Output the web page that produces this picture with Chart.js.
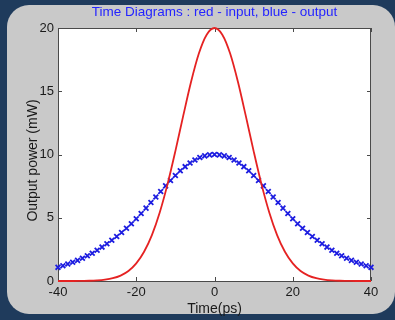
<!DOCTYPE html>
<html>
<head>
<meta charset="utf-8">
<script src="https://cdn.jsdelivr.net/npm/chart.js@4.4.1/dist/chart.umd.min.js"></script>
<style>
  html, body { margin: 0; padding: 0; background: #1f3b5c; }
  #wrap { position: relative; width: 395px; height: 320px; background: #1f3b5c; overflow: hidden; }
  #panel { position: absolute; left: 7px; top: 5px; width: 388px; height: 309px; border-radius: 22px; background: #c9c9c9; }
  #timeChart { position: absolute; left: 0; top: 0; }
</style>
</head>
<body>
<div id="wrap">
  <div id="panel"></div>
  <canvas id="timeChart" width="395" height="320"></canvas>
</div>
<script>
// input pulse (red line)
const timeIn = [-40, -38, -36, -34, -32, -30, -28, -26, -24, -22, -20, -18, -16, -14, -12, -10, -8, -6, -4, -2,
    0, 2, 4, 6, 8, 10, 12, 14, 16, 18, 20, 22, 24, 26, 28, 30, 32, 34, 36, 38, 40];
const powerIn = [0, 0, 0, 0.01, 0.02, 0.05, 0.11, 0.22, 0.43, 0.79, 1.39, 2.31, 3.63, 5.42, 7.66, 10.27, 13.05, 15.73, 17.98, 19.47,
    20, 19.47, 17.98, 15.73, 13.05, 10.27, 7.66, 5.42, 3.63, 2.31, 1.39, 0.79, 0.43, 0.22, 0.11, 0.05, 0.02, 0.01, 0, 0, 0];

// output pulse (blue markers)
const timeOut = [-40, -38.75, -37.5, -36.25, -35, -33.75, -32.5, -31.25, -30, -28.75, -27.5, -26.25, -25, -23.75, -22.5, -21.25,
    -20, -18.75, -17.5, -16.25, -15, -13.75, -12.5, -11.25, -10, -8.75, -7.5, -6.25, -5, -3.75, -2.5, -1.25,
    0, 1.25, 2.5, 3.75, 5, 6.25, 7.5, 8.75, 10, 11.25, 12.5, 13.75, 15, 16.25, 17.5, 18.75,
    20, 21.25, 22.5, 23.75, 25, 26.25, 27.5, 28.75, 30, 31.25, 32.5, 33.75, 35, 36.25, 37.5, 38.75, 40];
const powerOut = [1.08, 1.21, 1.34, 1.48, 1.63, 1.80, 1.99, 2.20, 2.43, 2.68, 2.94, 3.22, 3.52, 3.83, 4.17, 4.53,
    4.92, 5.33, 5.76, 6.20, 6.64, 7.08, 7.52, 7.94, 8.34, 8.71, 9.04, 9.33, 9.57, 9.76, 9.89, 9.97,
    10.00, 9.97, 9.89, 9.76, 9.57, 9.33, 9.04, 8.71, 8.34, 7.94, 7.52, 7.08, 6.64, 6.20, 5.76, 5.33,
    4.92, 4.53, 4.17, 3.83, 3.52, 3.22, 2.94, 2.68, 2.43, 2.20, 1.99, 1.80, 1.63, 1.48, 1.34, 1.21, 1.08];

const xTicks = [-40, -20, 0, 20, 40];
const yTicks = [0, 5, 10, 15, 20];
const yTitle = 'Output power (mW)';

const fontFamily = 'Liberation Sans, Arial, sans-serif';

// white axes box with matlab style inward ticks, plus the y label
const axesFrame = {
    id: 'axesFrame',
    beforeDatasetsDraw(chart) {
        const { ctx, chartArea: a, scales } = chart;
        ctx.save();
        ctx.fillStyle = '#ffffff';
        ctx.fillRect(a.left, a.top, a.width, a.height);
        ctx.strokeStyle = '#4a4a4a';
        ctx.lineWidth = 1;
        ctx.strokeRect(a.left + 0.5, a.top + 0.5, a.width - 1, a.height);
        const len = 4;
        ctx.beginPath();
        xTicks.forEach(function(v) {
            const px = Math.round(scales.x.getPixelForValue(v)) + 0.5;
            ctx.moveTo(px, a.bottom); ctx.lineTo(px, a.bottom - len);
            ctx.moveTo(px, a.top); ctx.lineTo(px, a.top + len);
        });
        yTicks.forEach(function(v) {
            const py = Math.round(scales.y.getPixelForValue(v)) + 0.5;
            ctx.moveTo(a.left, py); ctx.lineTo(a.left + len, py);
            ctx.moveTo(a.right, py); ctx.lineTo(a.right - len, py);
        });
        ctx.stroke();

        // y axis label, matlab puts it a bit below the box centre
        ctx.translate(33, (a.top + a.bottom) / 2 + 6);
        ctx.rotate(-Math.PI / 2);
        ctx.fillStyle = '#1a1a1a';
        ctx.font = '14px ' + fontFamily;
        ctx.textAlign = 'center';
        ctx.textBaseline = 'middle';
        ctx.fillText(yTitle, 0, 0);
        ctx.restore();
    }
};

const tickFont = { family: fontFamily, size: 13 };

new Chart(document.getElementById('timeChart'), {
    type: 'line',
    data: {
        datasets: [{
            label: 'input',
            data: timeIn.map((t, i) => ({ x: t, y: powerIn[i] })),
            borderColor: '#e52222',
            borderWidth: 1.8,
            pointRadius: 0,
            cubicInterpolationMode: 'monotone',
            fill: false,
            clip: 4
        }, {
            label: 'output',
            data: timeOut.map((t, i) => ({ x: t, y: powerOut[i] })),
            showLine: false,
            pointStyle: 'crossRot',
            pointRadius: 3.4,
            pointBorderWidth: 1.8,
            pointBorderColor: '#1c1ce0',
            pointBackgroundColor: '#1c1ce0',
            clip: 6
        }]
    },
    options: {
        responsive: false,
        animation: false,
        layout: { padding: { left: 8, right: 24, top: 0, bottom: 0 } },
        scales: {
            x: {
                type: 'linear',
                min: -40,
                max: 40,
                grid: { display: false, drawTicks: false },
                border: { display: false },
                ticks: { stepSize: 20, padding: 4, color: '#1a1a1a', font: tickFont, maxRotation: 0 },
                title: { display: true, text: 'Time(ps)', color: '#1a1a1a', font: { family: fontFamily, size: 14 }, padding: { top: 0, bottom: 2 } },
                afterFit: function(scale) { scale.height = 39; }
            },
            y: {
                min: 0,
                max: 20,
                grid: { display: false, drawTicks: false },
                border: { display: false },
                ticks: { stepSize: 5, padding: 4, color: '#1a1a1a', font: tickFont },
                afterFit: function(scale) { scale.width = 50; }
            }
        },
        plugins: {
            legend: { display: false },
            tooltip: { enabled: false },
            title: {
                display: true,
                fullSize: false,
                text: 'Time Diagrams : red - input, blue - output',
                color: '#2424ff',
                font: { family: fontFamily, size: 13.5, weight: 'normal' },
                padding: { top: 4, bottom: 7.8 }
            }
        }
    },
    plugins: [axesFrame]
});
</script>
</body>
</html>
